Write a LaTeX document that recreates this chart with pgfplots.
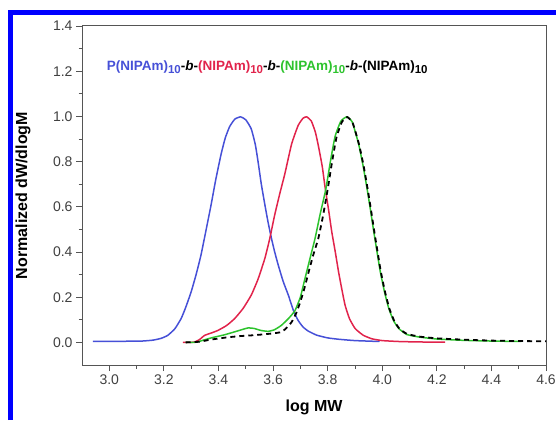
\documentclass[border=0pt]{standalone}
\usepackage{pgfplots}
\pgfplotsset{compat=1.18}
\usepackage{fontspec}
\setmainfont{Liberation Sans}
\setsansfont{Liberation Sans}
\definecolor{cblue}{RGB}{70,80,215}
\definecolor{cred}{RGB}{225,35,75}
\definecolor{cgreen}{RGB}{45,195,45}
\definecolor{axgray}{RGB}{85,85,85}
\newcommand{\sub}[1]{\raisebox{-0.45ex}{\fontsize{11.5}{11.5}\selectfont #1}}
\begin{document}
\begin{tikzpicture}
\useasboundingbox (0,0) rectangle (556pt,420pt);
\draw[line width=5pt,color={rgb,255:red,0;green,0;blue,255}] (10pt,0) -- (10pt,407.5pt) -- (560pt,407.5pt);
\begin{axis}[
  at={(82pt,55pt)}, anchor=south west,
  scale only axis, width=464pt, height=339pt,
  xmin=2.9, xmax=4.6, ymin=-0.1, ymax=1.4,
  xtick={3.0,3.2,3.4,3.6,3.8,4.0,4.2,4.4,4.6},
  ytick={0,0.2,0.4,0.6,0.8,1.0,1.2,1.4},
  minor tick num=1,
  tick pos=left, tick align=outside,
  major tick length=6pt, minor tick length=3.5pt,
  axis line style={axgray, line width=1pt},
  every tick/.style={axgray, line width=0.8pt},
  /pgf/number format/assume math mode=true,
  /pgf/number format/fixed, /pgf/number format/fixed zerofill, /pgf/number format/precision=1,
  tick label style={font=\fontsize{14}{14}\selectfont, text=black!75},
  xlabel={\textbf{log MW}}, ylabel={\textbf{Normalized dW/dlogM}},
  label style={font=\fontsize{16}{16}\selectfont},
  xlabel style={at={(axis description cs:0.5,-0.124)}, anchor=center},
  ylabel style={at={(axis description cs:-0.127,0.5)}, anchor=center, rotate=0},
  clip=true,
]
\addplot[cblue, line width=1.5pt, smooth, tension=0.3] coordinates {
(2.94,0.005)(3.05,0.005)(3.12,0.006)(3.16,0.01)(3.19,0.018)(3.214,0.031)(3.24,0.06)
(3.263,0.105)(3.28,0.155)(3.30,0.224)(3.318,0.30)(3.336,0.387)(3.355,0.50)(3.373,0.609)
(3.39,0.72)(3.41,0.835)(3.425,0.905)(3.441,0.955)(3.46,0.988)(3.481,0.998)(3.50,0.985)
(3.52,0.945)(3.535,0.875)(3.545,0.80)(3.557,0.70)(3.57,0.609)(3.582,0.53)(3.594,0.461)
(3.606,0.40)(3.619,0.342)(3.637,0.27)(3.656,0.209)(3.675,0.14)(3.692,0.097)(3.71,0.068)
(3.729,0.05)(3.76,0.032)(3.80,0.02)(3.84,0.014)(3.90,0.008)(3.99,0.004)};
\addplot[cred, line width=1.5pt, smooth, tension=0.3] coordinates {
(3.27,0)(3.31,0.001)(3.33,0.012)(3.349,0.031)(3.37,0.04)(3.398,0.053)(3.43,0.075)
(3.459,0.105)(3.49,0.15)(3.52,0.209)(3.545,0.28)(3.57,0.372)(3.588,0.46)(3.606,0.564)
(3.625,0.66)(3.643,0.745)(3.668,0.878)(3.692,0.96)(3.71,0.992)(3.723,0.998)(3.74,0.98)
(3.755,0.93)(3.766,0.87)(3.78,0.78)(3.791,0.683)(3.803,0.59)(3.815,0.49)(3.828,0.40)(3.84,0.312)
(3.852,0.235)(3.864,0.164)(3.88,0.105)(3.901,0.061)(3.93,0.032)(3.962,0.016)(4.00,0.008)
(4.06,0.004)(4.13,0.002)(4.23,0.001)};
\addplot[cgreen, line width=1.5pt, smooth, tension=0.3] coordinates {
(3.28,0)(3.32,0.001)(3.35,0.012)(3.38,0.022)(3.42,0.033)(3.46,0.047)(3.49,0.058)
(3.508,0.064)(3.53,0.062)(3.555,0.053)(3.582,0.049)(3.605,0.056)(3.63,0.075)(3.656,0.105)
(3.68,0.14)(3.70,0.20)(3.717,0.283)(3.735,0.37)(3.754,0.461)(3.773,0.57)(3.793,0.676)
(3.81,0.80)(3.827,0.91)(3.848,0.978)(3.87,0.998)(3.89,0.975)(3.913,0.88)(3.93,0.78)
(3.944,0.683)(3.957,0.585)(3.969,0.49)(3.981,0.40)(3.993,0.312)(4.008,0.225)(4.024,0.15)
(4.042,0.095)(4.061,0.061)(4.09,0.035)(4.134,0.024)(4.2,0.015)(4.3,0.009)(4.4,0.006)(4.51,0.004)};
\addplot[black, line width=1.8pt, dash pattern=on 5pt off 4pt, smooth, tension=0.3] coordinates {
(3.28,0)(3.33,0.003)(3.37,0.012)(3.43,0.022)(3.48,0.028)(3.52,0.031)(3.56,0.035)
(3.60,0.04)(3.631,0.046)(3.65,0.065)(3.668,0.09)(3.685,0.13)(3.70,0.18)(3.715,0.24)
(3.73,0.31)(3.748,0.39)(3.766,0.461)(3.783,0.56)(3.80,0.676)(3.815,0.79)(3.832,0.905)
(3.852,0.975)(3.872,0.997)(3.892,0.97)(3.915,0.876)(3.932,0.78)(3.946,0.683)(3.959,0.585)
(3.971,0.49)(3.983,0.40)(3.995,0.312)(4.01,0.225)(4.026,0.15)(4.044,0.095)(4.063,0.061)
(4.09,0.038)(4.134,0.026)(4.2,0.018)(4.3,0.012)(4.4,0.008)(4.5,0.006)(4.6,0.005)(4.65,0.005)};
\node[anchor=west, inner sep=0pt, font=\fontsize{13.5}{13.5}\selectfont\bfseries] at (axis cs:2.99,1.218)
 {\textcolor{cblue}{P(NIPAm)\sub{10}}-\textit{b}-\textcolor{cred}{(NIPAm)\sub{10}}-\textit{b}-\textcolor{cgreen}{(NIPAm)\sub{10}}-\textit{b}-(NIPAm)\sub{10}};
\end{axis}
\end{tikzpicture}
\end{document}
